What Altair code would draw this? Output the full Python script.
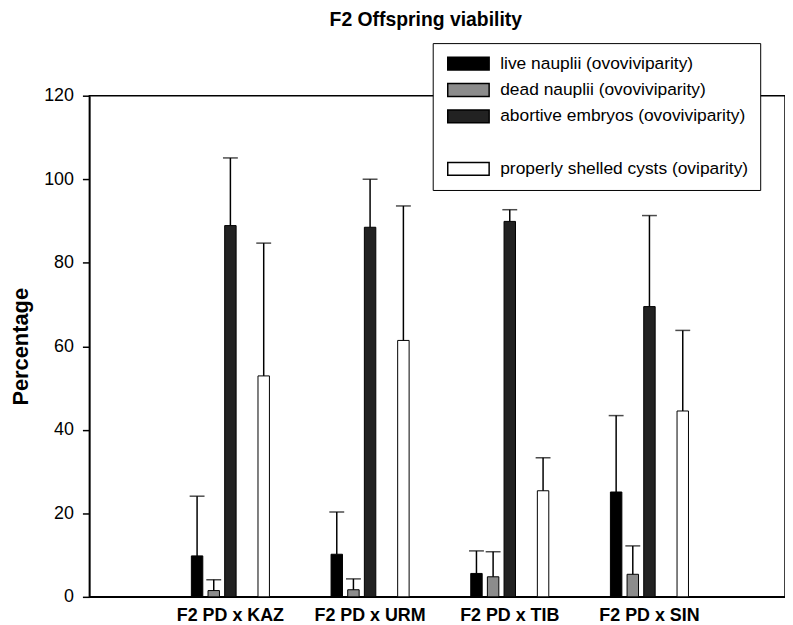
import altair as alt
import pandas as pd

title_text = "F2 Offspring viability"
categories = ["F2 PD x KAZ", "F2 PD x URM", "F2 PD x TIB", "F2 PD x SIN"]
series = [
    "live nauplii (ovoviviparity)",
    "dead nauplii (ovoviviparity)",
    "abortive embryos (ovoviviparity)",
    " ",
    "properly shelled cysts (oviparity)",
]
live_mean = [9.8, 10.2, 5.6, 25.1]
live_err = [14.3, 10.1, 5.4, 18.3]
dead_mean = [1.5, 1.7, 4.8, 5.4]
dead_err = [2.6, 2.6, 6.0, 6.8]
abortive_mean = [88.9, 88.5, 89.9, 69.5]
abortive_err = [16.2, 11.5, 2.8, 21.8]
cysts_mean = [52.9, 61.4, 25.4, 44.5]
cysts_err = [31.8, 32.2, 7.9, 19.3]
y_ticks = [0, 20, 40, 60, 80, 100, 120]

fills = ["#000000", "#8c8c8c", "#222222", "transparent", "#ffffff"]
strokes = ["#000000", "#000000", "#000000", "transparent", "#000000"]

rows = []
for s, means, errs in [
    (series[0], live_mean, live_err),
    (series[1], dead_mean, dead_err),
    (series[2], abortive_mean, abortive_err),
    (series[4], cysts_mean, cysts_err),
]:
    for c, m, e in zip(categories, means, errs):
        rows.append({"group": c, "series": s, "mean": m, "upper": m + e})
df = pd.DataFrame(rows)

FONT = "Liberation Sans"

# offset slots: one spare slot on each side of the five series slots
offset_domain = ["_pad_left"] + series + ["_pad_right"]

x_enc = alt.X(
    "group:N",
    sort=categories,
    scale=alt.Scale(paddingInner=0, paddingOuter=0.49, align=0.52),
    axis=alt.Axis(
        title=None, labelAngle=0, ticks=False, labelFontSize=18,
        labelFontWeight="bold", labelPadding=10, labelFont=FONT,
        labelColor="black", domainColor="black", domainWidth=1.5,
    ),
)
xo_enc = alt.XOffset(
    "series:N",
    scale=alt.Scale(domain=offset_domain, paddingInner=0.313, paddingOuter=0.85),
)
y_scale = alt.Scale(domain=[0, 120], nice=False)

legend = alt.Legend(
    title=None,
    orient="none",
    legendX=346,
    legendY=-53,
    direction="vertical",
    symbolType="M-1,-0.31H1V0.31H-1Z",
    symbolSize=1739,
    symbolStrokeWidth=1.5,
    symbolOffset=2,
    labelFontSize=17.5,
    labelFont=FONT,
    labelColor="black",
    labelLimit=500,
    labelOffset=10,
    labelExpr="datum.label + '\u00a0\u00a0\u00a0\u00a0'",
    clipHeight=17.5,
    rowPadding=7.5,
    padding=12,
    strokeColor="black",
    fillColor="white",
)

bars = alt.Chart(df).mark_bar(strokeWidth=1).encode(
    x=x_enc,
    xOffset=xo_enc,
    y=alt.Y(
        "mean:Q",
        scale=y_scale,
        axis=alt.Axis(
            values=y_ticks, title="Percentage", titleFontSize=22,
            titleFontWeight="bold", titleFont=FONT, titleColor="black",
            titlePadding=11, labelFontSize=18, labelFont=FONT,
            labelColor="black", tickColor="black", tickSize=7, tickWidth=1.5,
            labelPadding=9, domainColor="black", domainWidth=1.5, grid=False,
        ),
    ),
    fill=alt.Fill("series:N", scale=alt.Scale(domain=series, range=fills), legend=legend),
    stroke=alt.Stroke("series:N", scale=alt.Scale(domain=series, range=strokes), legend=legend),
)

whiskers = alt.Chart(df).mark_rule(color="black", strokeWidth=1.5).encode(
    x=x_enc, xOffset=xo_enc, y=alt.Y("mean:Q", scale=y_scale), y2="upper:Q"
)
caps = alt.Chart(df).mark_tick(color="black", thickness=1.5, size=15).encode(
    x=x_enc, xOffset=xo_enc, y=alt.Y("upper:Q", scale=y_scale)
)

# chart title drawn as a text mark above the plot area
title_mark = alt.Chart(pd.DataFrame({"t": [title_text]})).mark_text(
    font=FONT, fontSize=19.5, fontWeight="bold", color="black",
    align="center", baseline="alphabetic",
).encode(text="t:N", x=alt.value(339), y=alt.value(-70))

chart = (
    alt.layer(bars, whiskers, caps, title_mark)
    .properties(
        width=701,
        height=505,
        autosize=alt.AutoSizeParams(type="none"),
        padding={"left": 82, "top": 86, "right": 0, "bottom": 26},
    )
    .configure(
        background="white",
        view=alt.ViewConfig(stroke="black", strokeWidth=1.5),
    )
)

chart.save("out.html", embed_options={"renderer": "svg", "actions": False})
